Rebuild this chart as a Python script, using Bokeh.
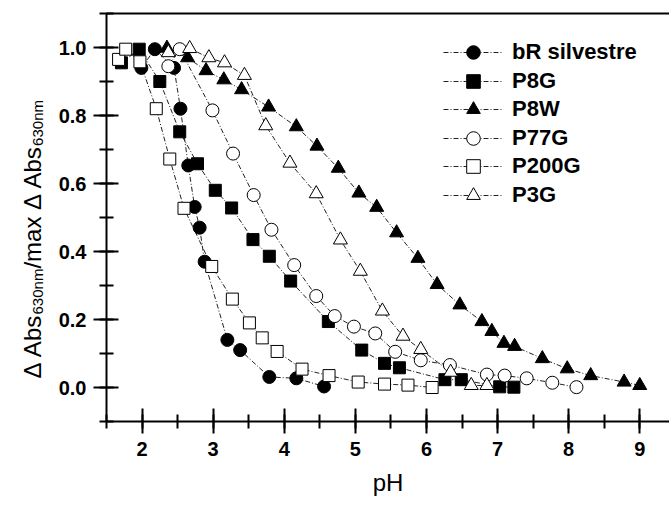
import math
from bokeh.plotting import figure
from bokeh.layouts import row
from bokeh.models import (Range1d, LinearAxis, SingleIntervalTicker, FixedTicker,
                          NumeralTickFormatter, Legend, LegendItem, Label, ColumnDataSource)
from bokeh.embed import file_html
from bokeh.resources import INLINE

# ---------------- data ----------------
names = ["bR silvestre", "P8G", "P8W", "P77G", "P200G", "P3G"]

br_ph = [1.99, 2.18, 2.45, 2.54, 2.65, 2.74, 2.81, 2.88, 3.20, 3.38, 3.79, 4.17, 4.56]
br_y = [0.94, 0.995, 0.94, 0.82, 0.653, 0.531, 0.47, 0.37, 0.14, 0.11, 0.031, 0.027, 0.003]

p8g_ph = [1.71, 1.96, 2.25, 2.53, 2.78, 3.03, 3.26, 3.56, 3.79, 4.09, 4.62, 5.09, 5.41, 5.62,
          6.26, 6.49, 7.03, 7.23]
p8g_y = [0.955, 0.995, 0.90, 0.752, 0.658, 0.58, 0.528, 0.435, 0.386, 0.313, 0.194, 0.11, 0.071,
         0.058, 0.023, 0.023, 0.002, 0.001]

p8w_ph = [2.35, 2.64, 2.90, 3.15, 3.40, 3.78, 4.17, 4.46, 4.76, 5.05, 5.30, 5.58, 5.88, 6.15,
          6.47, 6.78, 6.92, 7.09, 7.24, 7.63, 7.98, 8.31, 8.78, 9.00]
p8w_y = [0.998, 0.97, 0.932, 0.905, 0.876, 0.825, 0.767, 0.71, 0.645, 0.572, 0.53, 0.455, 0.38,
         0.303, 0.243, 0.194, 0.165, 0.13, 0.121, 0.085, 0.055, 0.035, 0.016, 0.006]

p77g_ph = [2.37, 2.53, 2.99, 3.28, 3.57, 3.82, 4.14, 4.45, 4.71, 4.98, 5.28, 5.56, 5.92, 6.33,
           6.85, 7.10, 7.41, 7.77, 8.11]
p77g_y = [0.945, 0.995, 0.815, 0.688, 0.566, 0.464, 0.36, 0.269, 0.21, 0.179, 0.159, 0.105, 0.08,
          0.066, 0.038, 0.035, 0.027, 0.014, 0.001]

p200g_ph = [1.67, 1.77, 1.97, 2.20, 2.39, 2.59, 2.98, 3.27, 3.51, 3.69, 3.90, 4.25, 4.63, 5.04,
            5.41, 5.74, 6.08]
p200g_y = [0.965, 0.995, 0.958, 0.82, 0.672, 0.527, 0.356, 0.26, 0.19, 0.146, 0.106, 0.054,
           0.035, 0.016, 0.01, 0.007, 0.0]

p3g_ph = [2.37, 2.67, 2.94, 3.16, 3.44, 3.74, 4.08, 4.45, 4.79, 5.07, 5.38, 5.67, 5.92, 6.34,
          6.63, 6.85]
p3g_y = [0.985, 0.997, 0.97, 0.955, 0.918, 0.77, 0.66, 0.57, 0.434, 0.342, 0.225, 0.151, 0.112,
         0.045, 0.006, 0.006]

series_x = [br_ph, p8g_ph, p8w_ph, p77g_ph, p200g_ph, p3g_ph]
series_y = [br_y, p8g_y, p8w_y, p77g_y, p200g_y, p3g_y]

x_title = "pH"
y_title_pieces = [("Δ Abs", "main"), ("630nm", "sub"), ("/max Δ Abs", "main"), ("630nm", "sub")]

# ---------------- styles ----------------
markers = ["circle", "square", "triangle", "circle", "square", "triangle"]
filled = [True, True, True, False, False, False]
msizes = [13, 12, 14, 13, 12, 14]

FONT = "Liberation Sans"
W, H = 669, 506
LW = 50                        # strip holding the y title
FL, FB, FT = 106, 421, 13      # frame left / bottom / top in page px
PX_PER_PH = 71.1

p = figure(width=W - LW, height=H, output_backend="svg", toolbar_location=None,
           x_range=Range1d(1.5, 1.5 + (W - FL) / PX_PER_PH), y_range=Range1d(-0.1, 1.1),
           min_border_left=FL - LW, min_border_right=0, min_border_top=FT,
           min_border_bottom=H - FB)
p.outline_line_color = None
p.xgrid.visible = False
p.ygrid.visible = False

xax = p.xaxis[0]
xax.ticker = SingleIntervalTicker(interval=1, num_minor_ticks=2)
yax = p.yaxis[0]
yax.ticker = SingleIntervalTicker(interval=0.2, num_minor_ticks=2)
yax.formatter = NumeralTickFormatter(format="0.0")

for ax in (xax, yax):
    ax.axis_line_width = 2
    ax.major_tick_line_width = 2
    ax.minor_tick_line_width = 2
    ax.axis_line_color = "black"
    ax.major_tick_line_color = "black"
    ax.minor_tick_line_color = "black"
    ax.major_label_text_font = FONT
    ax.major_label_text_font_style = "bold"
    ax.major_label_text_font_size = "20px"
    ax.major_label_text_color = "black"

xax.major_tick_in = 13
xax.major_tick_out = 12
xax.minor_tick_in = 7
xax.minor_tick_out = 7
xax.major_label_standoff = 8
xax.axis_label = x_title
xax.axis_label_text_font = FONT
xax.axis_label_text_font_style = "normal"
xax.axis_label_text_font_size = "24px"
xax.axis_label_text_color = "black"
xax.axis_label_standoff = 10

yax.major_tick_in = 12
yax.major_tick_out = 13
yax.minor_tick_in = 7
yax.minor_tick_out = 7
yax.major_label_standoff = 7

top = LinearAxis(ticker=FixedTicker(ticks=[]))
top.axis_line_width = 2
top.axis_line_color = "black"
top.major_tick_in = 0
top.major_tick_out = 0
top.minor_tick_in = 0
top.minor_tick_out = 0
top.major_label_standoff = 0
p.add_layout(top, "above")

# ---------------- series ----------------
line_rs, scat_rs = [], []
for xs, ys in zip(series_x, series_y):
    src = ColumnDataSource(dict(x=xs, y=ys))
    line_rs.append(p.line("x", "y", source=src, line_color="#222222", line_width=1,
                          line_dash="5 2 1 2"))
for xs, ys, mk, fl, sz in zip(series_x, series_y, markers, filled, msizes):
    src = ColumnDataSource(dict(x=xs, y=ys))
    scat_rs.append(p.scatter("x", "y", source=src, marker=mk, size=sz,
                             fill_color="black" if fl else "white",
                             line_color="black", line_width=1))

# one single-row legend per series so the rows can sit closer than the glyph box
ROW0, PITCH, GH = 52, 28.6, 34
for i, (n, l, s) in enumerate(zip(names, line_rs, scat_rs)):
    center = ROW0 + i * PITCH
    lg = Legend(items=[LegendItem(label=n, renderers=[l, s])],
                location=(443 - FL, round(FB - (center + GH / 2))), padding=0, margin=0,
                glyph_width=60, glyph_height=GH, label_height=GH, label_standoff=9,
                label_text_font=FONT, label_text_font_style="bold",
                label_text_font_size="22px", label_text_color="black",
                border_line_color=None, background_fill_alpha=0)
    p.add_layout(lg)

# ---------------- y title strip (frame aligned with the main plot) ----------------
q = figure(width=LW, height=H, output_backend="svg", toolbar_location=None,
           x_range=Range1d(0, 1), y_range=Range1d(0, 1), min_border=0,
           x_axis_location=None, y_axis_location=None)
q.outline_line_color = None
q.xgrid.visible = False
q.ygrid.visible = False

adv = {"Δ": 0.667, " ": 0.278, "A": 0.667, "b": 0.556, "s": 0.5, "6": 0.556, "3": 0.556,
       "0": 0.556, "n": 0.556, "m": 0.833, "/": 0.278, "a": 0.556, "x": 0.5}
SIZES = {"main": 24, "sub": 15}
OFFS = {"main": 0, "sub": 5}
t = FB - 378          # start of the rotated title, measured up from the frame bottom
base_x = 32
for txt, kind in y_title_pieces:
    fs = SIZES[kind]
    q.add_layout(Label(x=base_x + OFFS[kind], y=t, x_units="screen", y_units="screen", text=txt,
                       angle=math.pi / 2, text_font=FONT, text_font_size=f"{fs}px",
                       text_align="left", text_baseline="alphabetic", text_color="black"))
    t += sum(adv[c] for c in txt) * fs

layout = row(q, p)
open("out.html", "w").write(file_html(layout, INLINE))
